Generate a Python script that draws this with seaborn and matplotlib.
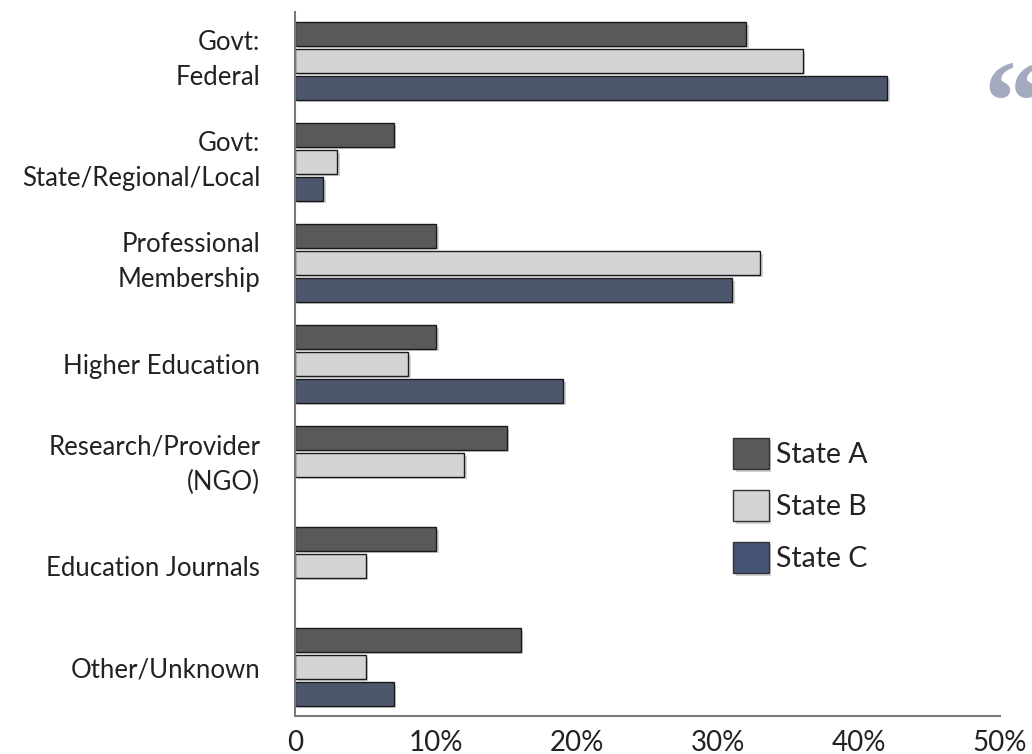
import matplotlib
matplotlib.use("Agg")
import matplotlib.pyplot as plt
import matplotlib.patheffects as pe
import matplotlib.transforms as mtransforms
from matplotlib.patches import Patch
import seaborn as sns
import pandas as pd

categories = ["Govt:\nFederal", "Govt:\nState/Regional/Local", "Professional\nMembership",
              "Higher Education", "Research/Provider\n(NGO)", "Education Journals", "Other/Unknown"]
state_a = [32, 7, 10, 10, 15, 10, 16]
state_b = [36, 3, 33, 8, 12, 5, 5]
state_c = [42, 2, 31, 19, 0, 0, 7]
series = ["State A", "State B", "State C"]
colors = ["#595959", "#d3d4d6", "#465473"]
tick_vals = [0, 10, 20, 30, 40, 50]
tick_labels = ["0", "10%", "20%", "30%", "40%", "50%"]

rows = []
for name, vals in zip(series, [state_a, state_b, state_c]):
    for c, v in zip(categories, vals):
        rows.append({"Category": c, "Series": name, "Value": v})
df = pd.DataFrame(rows)

sns.set_theme(style="white")
plt.rcParams["font.family"] = ["Lato", "DejaVu Sans"]

fig = plt.figure(figsize=(10.32, 7.54), dpi=100)
ax = fig.add_axes([295/1032, 38/754, 705/1032, 704/754])

sns.barplot(data=df, y="Category", x="Value", hue="Series", order=categories,
            hue_order=series, palette=colors, orient="h", width=0.8, gap=0.14,
            edgecolor="#1a1a1a", linewidth=1.0, ax=ax, legend=False)

shadow = [pe.SimplePatchShadow(offset=(2, -2), shadow_rgbFace="#000000", alpha=0.18), pe.Normal()]
for p in ax.patches:
    if p.get_width() > 0:
        p.set_path_effects(shadow)
    else:
        p.set_visible(False)

ax.set_xlim(0, 50)
ax.set_ylim(6.485, -0.485)
ax.set_xticks(tick_vals)
ax.set_xticklabels(tick_labels, fontsize=20, color="#222222")
ax.tick_params(axis="y", labelsize=18.5, colors="#222222", length=0, pad=25)
ax.tick_params(axis="x", length=0, pad=10)
shift_up = mtransforms.ScaledTranslation(0, 8/100, fig.dpi_scale_trans)
for lab in ax.get_yticklabels():
    lab.set_linespacing(1.5)
    if "\n" in lab.get_text():
        lab.set_transform(lab.get_transform() + shift_up)
ax.set_xlabel("")
ax.set_ylabel("")
for s in ["top", "right"]:
    ax.spines[s].set_visible(False)
for s in ["left", "bottom"]:
    ax.spines[s].set_color("#7a7a7a")
    ax.spines[s].set_linewidth(1.5)

handles = [Patch(facecolor=c, edgecolor="#333333", linewidth=1.0, label=s) for c, s in zip(colors, series)]
leg = ax.legend(handles=handles, loc="upper left", bbox_to_anchor=((733-295)/705, (716-438)/704),
                frameon=False, fontsize=20.5, handlelength=1.25, handleheight=1.3,
                handletextpad=0.25, labelspacing=0.74, borderaxespad=0, borderpad=0)
for t in leg.get_texts():
    t.set_color("#222222")
for h in leg.legend_handles:
    h.set_path_effects(shadow)

fig.text(983/1032, 1 - 140/754, "\u201c", fontsize=84, color="#a4aac0",
         family="Liberation Serif", fontweight="bold", ha="left", va="baseline")

fig.savefig("out.png", dpi=100)
